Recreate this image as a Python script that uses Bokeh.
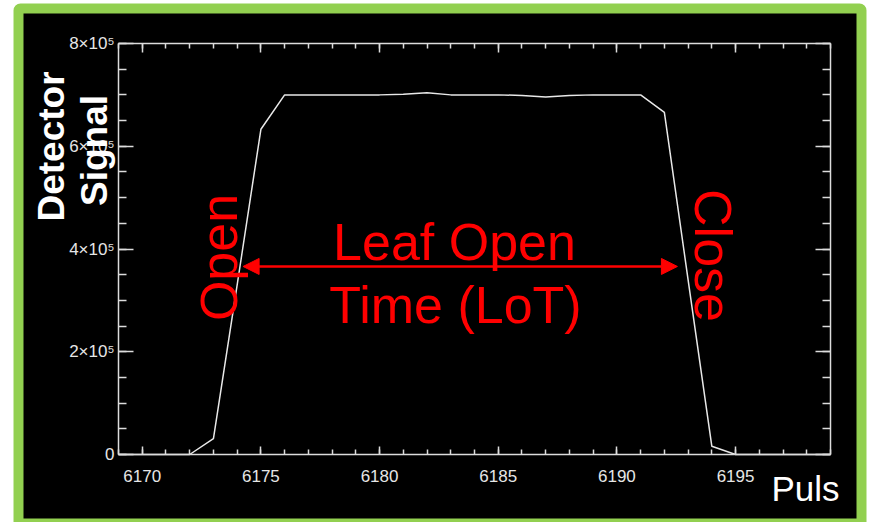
import math
from bokeh.plotting import figure
from bokeh.models import (Range1d, LinearAxis, SingleIntervalTicker, Label, Arrow,
                          NormalHead, BoxAnnotation, CustomJSTickFormatter)
from bokeh.embed import file_html
from bokeh.resources import INLINE

# ---------------- data ----------------
pulses = [6169, 6170, 6171, 6172, 6173, 6174, 6175, 6176, 6177, 6178, 6179, 6180,
          6181, 6182, 6183, 6184, 6185, 6186, 6187, 6188, 6189, 6190, 6191, 6192,
          6193, 6194, 6195, 6196, 6197, 6198, 6199]
signal = [0, 0, 0, 0, 31000, 330000, 633000, 700000, 700000, 700000, 700000, 700000,
          701000, 704000, 700000, 700000, 700000, 699000, 696000, 699000, 700000, 700000,
          700000, 666000, 340000, 16000, 0, 0, 0, 0, 0]

x_min, x_max = 6169, 6199
y_min, y_max = 0, 800000
x_major_step = 5
y_major_step = 200000
y_tick_values = [0, 200000, 400000, 600000, 800000]
y_tick_labels = ["0", "2×10⁵", "4×10⁵", "6×10⁵", "8×10⁵"]

y_title_lines = ["Detector", "Signal"]
x_title = "Puls"
lot_lines = ["Leaf Open", "Time (LoT)"]
open_text = "Open"
close_text = "Close"
arrow_level = 366000
arrow_from, arrow_to = 6174.25, 6192.55

# ---------------- layout (page pixels) ----------------
W, H = 872, 522
FL, FT, FR, FB = 118, 43, 830, 454   # the axes box

AX = "#dcdcdc"
RED = "#ff0000"
GREEN = "#92D050"
FONT = "Liberation Sans"
BASE_SHIFT = 0.385   # empirical offset of the alphabetic baseline (em)

xs = (x_max - x_min) / (FR - FL)
ys = (y_max - y_min) / (FB - FT)

p = figure(width=W, height=H,
           x_range=Range1d(x_min - FL * xs, x_max + (W - FR) * xs),
           y_range=Range1d(y_min - (H - FB) * ys, y_max + FT * ys),
           output_backend="svg", toolbar_location=None,
           x_axis_location=None, y_axis_location=None, min_border=0)
p.background_fill_color = "white"
p.border_fill_color = "white"
p.outline_line_color = None
p.xgrid.visible = False
p.ygrid.visible = False


def sx(X):
    return X


def sy(Y):
    return H - Y


# panel: green rounded frame with black inside
p.add_layout(BoxAnnotation(left=sx(13), right=sx(866), top=sy(3), bottom=sy(545),
                           left_units="screen", right_units="screen",
                           top_units="screen", bottom_units="screen",
                           fill_color=GREEN, fill_alpha=1.0, line_color=None,
                           border_radius=7, level="underlay"))
p.add_layout(BoxAnnotation(left=sx(23), right=sx(856), top=sy(13), bottom=sy(518),
                           left_units="screen", right_units="screen",
                           top_units="screen", bottom_units="screen",
                           fill_color="black", fill_alpha=1.0, line_color=None,
                           level="underlay"))

blank = CustomJSTickFormatter(code="return ''")


def style_axis(ax, major_in, minor_in, labels=True):
    ax.axis_line_color = AX
    ax.axis_line_width = 1.5
    ax.major_tick_line_color = AX
    ax.minor_tick_line_color = AX
    ax.major_tick_line_width = 1.5
    ax.minor_tick_line_width = 1.5
    ax.major_tick_in = major_in
    ax.major_tick_out = 0
    ax.minor_tick_in = minor_in
    ax.minor_tick_out = 0
    ax.axis_label = None
    if labels:
        ax.major_label_text_font = FONT
        ax.major_label_text_font_size = "17px"
        ax.major_label_text_color = "#e6e6e6"
    else:
        ax.formatter = blank
        ax.major_label_standoff = 0


bottom = LinearAxis(ticker=SingleIntervalTicker(interval=x_major_step, num_minor_ticks=5),
                    fixed_location=y_min, bounds=(x_min, x_max))
style_axis(bottom, 8, 5)
bottom.major_label_standoff = 15
p.add_layout(bottom, "below")

top = LinearAxis(ticker=SingleIntervalTicker(interval=x_major_step, num_minor_ticks=5),
                 fixed_location=y_max, bounds=(x_min, x_max))
style_axis(top, 9, 5, labels=False)
p.add_layout(top, "above")

left = LinearAxis(ticker=SingleIntervalTicker(interval=y_major_step, num_minor_ticks=4),
                  fixed_location=x_min, bounds=(y_min, y_max))
style_axis(left, 15, 8)
left.major_label_standoff = 4
left.major_label_overrides = dict(zip(y_tick_values, y_tick_labels))
p.add_layout(left, "left")

right = LinearAxis(ticker=SingleIntervalTicker(interval=y_major_step, num_minor_ticks=4),
                   fixed_location=x_max, bounds=(y_min, y_max))
style_axis(right, 15, 8, labels=False)
p.add_layout(right, "right")

# data line
p.line(pulses, signal, line_color="#e8e8e8", line_width=1.5)

# arrow
p.add_layout(Arrow(start=NormalHead(size=16, fill_color=RED, line_color=RED),
                   end=NormalHead(size=16, fill_color=RED, line_color=RED),
                   x_start=arrow_from, y_start=arrow_level,
                   x_end=arrow_to, y_end=arrow_level,
                   line_color=RED, line_width=2.5))


def label(text, X, Y, size, color, angle=0, align="center", bold=False):
    # (X, Y) is the wanted alphabetic-baseline anchor in page pixels
    d = BASE_SHIFT * size
    a = math.radians(angle)
    # "down" direction of the text in page coords (y down)
    dx, dy = math.sin(a), math.cos(a)
    X0, Y0 = X - d * dx, Y - d * dy
    p.add_layout(Label(x=sx(X0), y=sy(Y0), x_units="screen", y_units="screen",
                       text=text, text_font=FONT, text_font_size=f"{size}px",
                       text_font_style="bold" if bold else "normal",
                       text_color=color, text_align=align,
                       text_baseline="alphabetic", angle=angle, angle_units="deg"))


label(lot_lines[0], 454, 262, 52, RED)
label(lot_lines[1], 455, 325, 52, RED)
label(open_text, 239, 257, 52, RED, angle=90)
label(close_text, 692, 255, 52, RED, angle=-90)
label(y_title_lines[0], 65, 146, 37, "white", angle=90, bold=True)
label(y_title_lines[1], 108, 150, 37, "white", angle=90, bold=True)
label(x_title, 771, 501, 35, "white", align="left")

open("out.html", "w").write(file_html(p, INLINE))
